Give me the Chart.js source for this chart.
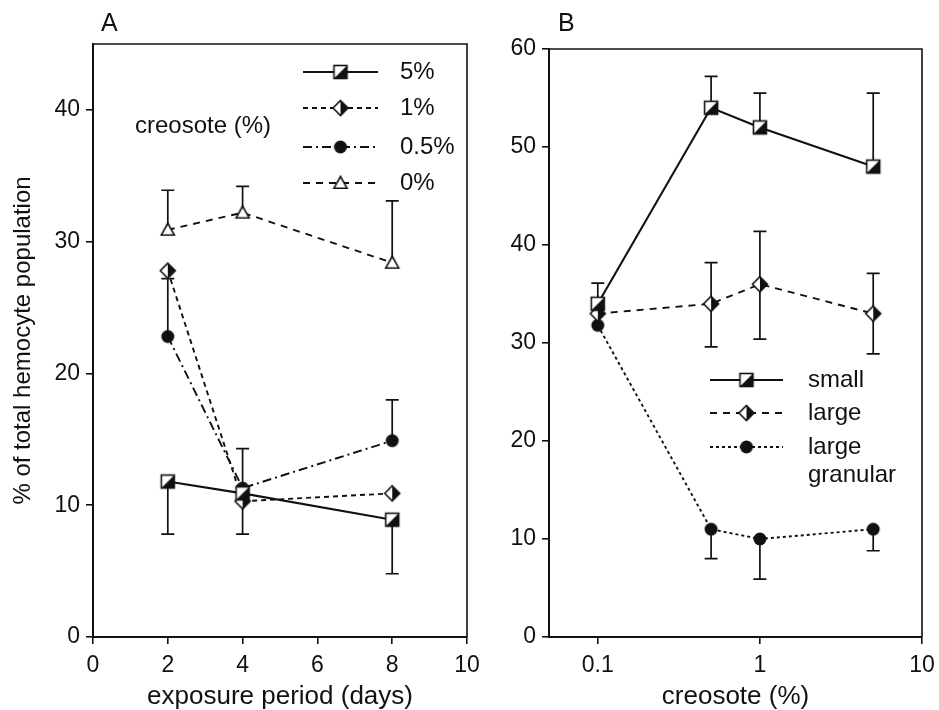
<!DOCTYPE html>
<html>
<head>
<meta charset="utf-8">
<script src="https://cdn.jsdelivr.net/npm/chart.js@4"></script>
<style>
    body { margin: 0; background: #fff; overflow: hidden; }
    #wrap { position: relative; width: 939px; height: 710px; }
    canvas { position: absolute; top: 0; }
</style>
</head>
<body>
<div id="wrap">
    <canvas id="chart-a" width="485" height="710" style="left:0"></canvas>
    <canvas id="chart-b" width="469" height="710" style="left:470px"></canvas>
</div>
<script>
// panel A: exposure period (days)
const daysA = [2, 4, 8];
const creo5 = [11.8, 10.9, 8.9];
const creo1 = [27.8, 10.3, 10.9];
const creo05 = [22.8, 11.3, 14.9];
const creo0 = [30.9, 32.2, 28.4];
// error bar ends (absolute values, null = no bar)
const creo5Low = [7.8, 7.8, 4.8];
const creo05High = [27.2, 14.3, 18.0];
const creo0High = [33.9, 34.2, 33.1];
const xTicksA = [0, 2, 4, 6, 8, 10];
const yTicksA = [0, 10, 20, 30, 40];

// panel B: creosote (%)
const doseB = [0.1, 0.5, 1, 5];
const small = [34, 54, 52, 48];
const large = [33, 34, 36, 33];
const largeGran = [31.8, 11, 10, 11];
const smallHigh = [36.1, 57.2, 55.5, 55.5];
const largeHigh = [null, 38.2, 41.4, 37.1];
const largeLow = [null, 29.6, 30.4, 28.9];
const largeGranLow = [null, 8.0, 5.9, 8.8];
const xTicksB = [0.1, 1, 10];
const yTicksB = [0, 10, 20, 30, 40, 50, 60];

const FONT = "'Liberation Sans', Arial, Helvetica, sans-serif";
const INK = '#111';

// little canvases used as point styles
function makeMarker(kind) {
    const s = 20;
    const c = document.createElement('canvas');
    c.width = s; c.height = s;
    const g = c.getContext('2d');
    const m = s / 2;
    g.lineWidth = 1.6;
    g.strokeStyle = INK;
    g.fillStyle = '#fff';
    if (kind === 'square') {
        const h = 6.5;
        g.fillRect(m - h, m - h, 2 * h, 2 * h);
        g.fillStyle = INK;
        g.beginPath();
        g.moveTo(m + h, m - h); g.lineTo(m + h, m + h); g.lineTo(m - h, m + h);
        g.closePath(); g.fill();
        g.strokeRect(m - h, m - h, 2 * h, 2 * h);
    } else if (kind === 'diamond') {
        const h = 7.5;
        g.beginPath();
        g.moveTo(m, m - h); g.lineTo(m + h, m); g.lineTo(m, m + h); g.lineTo(m - h, m);
        g.closePath(); g.fill(); g.stroke();
        g.fillStyle = INK;
        g.beginPath();
        g.moveTo(m, m - h); g.lineTo(m + h, m); g.lineTo(m, m + h);
        g.closePath(); g.fill();
    } else if (kind === 'circle') {
        g.fillStyle = INK;
        g.beginPath(); g.arc(m, m, 6.5, 0, Math.PI * 2); g.fill();
    } else if (kind === 'triangle') {
        const h = 6.5;
        g.beginPath();
        g.moveTo(m, m - h); g.lineTo(m + h, m + h * 0.8); g.lineTo(m - h, m + h * 0.8);
        g.closePath(); g.fill(); g.stroke();
    }
    return c;
}
const mk = {
    square: makeMarker('square'),
    diamond: makeMarker('diamond'),
    circle: makeMarker('circle'),
    triangle: makeMarker('triangle')
};

const pts = (xs, ys) => xs.map((x, i) => ({ x: x, y: ys[i] }));

function series(label, xs, ys, marker, dash, extra) {
    return Object.assign({
        label: label,
        data: pts(xs, ys),
        showLine: true,
        borderColor: INK,
        borderWidth: 1.9,
        borderDash: dash,
        pointStyle: marker,
        pointRadius: 7,
        marker: marker
    }, extra || {});
}

// error bars, frame, legend and panel letter
const errorBars = {
    id: 'errorBars',
    beforeDatasetsDraw(chart) {
        const ctx = chart.ctx;
        const xs = chart.scales.x, ys = chart.scales.y;
        chart.data.datasets.forEach(ds => {
            [ds.errHigh, ds.errLow].forEach(arr => {
                if (!arr) return;
                ds.data.forEach((p, i) => {
                    if (arr[i] == null) return;
                    const x = xs.getPixelForValue(p.x);
                    const y0 = ys.getPixelForValue(p.y);
                    const y1 = ys.getPixelForValue(arr[i]);
                    ctx.save();
                    ctx.strokeStyle = INK;
                    ctx.lineWidth = 1.7;
                    ctx.beginPath();
                    ctx.moveTo(x, y0); ctx.lineTo(x, y1);
                    ctx.moveTo(x - 6.5, y1); ctx.lineTo(x + 6.5, y1);
                    ctx.stroke();
                    ctx.restore();
                });
            });
        });
    }
};

const frame = {
    id: 'frame',
    beforeDatasetsDraw(chart) {
        const a = chart.chartArea, ctx = chart.ctx;
        ctx.save();
        ctx.strokeStyle = INK;
        ctx.lineWidth = 1.6;
        ctx.beginPath();
        ctx.moveTo(a.left, a.top); ctx.lineTo(a.right, a.top); ctx.lineTo(a.right, a.bottom);
        ctx.stroke();
        ctx.restore();
    }
};

const keyBox = {
    id: 'keyBox',
    afterDraw(chart, args, opts) {
        const ctx = chart.ctx;
        ctx.save();
        ctx.fillStyle = INK;
        ctx.textBaseline = 'middle';
        // panel letter
        ctx.font = `25px ${FONT}`;
        ctx.fillText(opts.letter, opts.letterX, opts.letterY);
        ctx.font = `24px ${FONT}`;
        (opts.extra || []).forEach(t => ctx.fillText(t.text, t.x, t.y));
        chart.data.datasets.forEach((ds, i) => {
            const y = opts.rows[i];
            ctx.save();
            ctx.strokeStyle = INK;
            ctx.lineWidth = ds.borderWidth;
            ctx.setLineDash(ds.borderDash || []);
            ctx.beginPath();
            ctx.moveTo(opts.x0, y); ctx.lineTo(opts.x1, y);
            ctx.stroke();
            ctx.restore();
            const c = ds.marker;
            const mx = (opts.x0 + opts.x1) / 2;
            ctx.drawImage(c, mx - c.width / 2, y - c.height / 2);
            ctx.fillText(ds.label, opts.tx, y);
            if (ds.label2) ctx.fillText(ds.label2, opts.tx, y + 28);
        });
        ctx.restore();
    }
};

function baseOptions(xType, xMin, xMax, xTicks, yMax, yTicks, yWidth, yTitle, xTitle, pad, key) {
    const tickFont = { family: FONT, size: 23 };
    return {
        responsive: false,
        animation: false,
        layout: { padding: pad },
        plugins: { legend: { display: false }, tooltip: { enabled: false }, keyBox: key },
        scales: {
            x: {
                type: xType,
                min: xMin,
                max: xMax,
                afterBuildTicks: s => { s.ticks = xTicks.map(v => ({ value: v })); },
                // fixed height, and let end labels spill into the layout padding
                afterFit: s => { s.height = 73; s.paddingLeft = 0; s.paddingRight = 0; },
                grid: { drawOnChartArea: false, color: INK, lineWidth: 1.6, tickLength: 7 },
                border: { color: INK, width: 2 },
                ticks: { color: INK, font: tickFont, padding: 8, maxRotation: 0,
                    callback: v => String(v) },
                title: { display: true, text: xTitle, color: INK,
                    font: { family: FONT, size: 26, lineHeight: 1 }, padding: 0 }
            },
            y: {
                min: 0,
                max: yMax,
                afterBuildTicks: s => { s.ticks = yTicks.map(v => ({ value: v })); },
                afterFit: s => { s.width = yWidth; },
                grid: { drawOnChartArea: false, color: INK, lineWidth: 1.6, tickLength: 7 },
                border: { color: INK, width: 2 },
                ticks: { color: INK, font: tickFont, padding: 6 },
                title: { display: !!yTitle, text: yTitle, color: INK,
                    font: { family: FONT, size: 24 }, padding: { top: 9, bottom: 0 } }
            }
        }
    };
}

new Chart(document.getElementById('chart-a'), {
    type: 'scatter',
    data: {
        datasets: [
            series('5%', daysA, creo5, mk.square, [], { borderWidth: 2.1, errLow: creo5Low }),
            series('1%', daysA, creo1, mk.diamond, [5, 4]),
            series('0.5%', daysA, creo05, mk.circle, [9, 4, 2, 4], { errHigh: creo05High }),
            series('0%', daysA, creo0, mk.triangle, [7, 6], { errHigh: creo0High })
        ]
    },
    options: baseOptions('linear', 0, 10, xTicksA, 45, yTicksA, 93,
        '% of total hemocyte population', 'exposure period (days)',
        { top: 44, right: 18, bottom: 0, left: 0 },
        { letter: 'A', letterX: 101, letterY: 24, x0: 303, x1: 378, tx: 400,
          rows: [72, 108, 147, 183], extra: [{ text: 'creosote (%)', x: 135, y: 126 }] }),
    plugins: [frame, errorBars, keyBox]
});

new Chart(document.getElementById('chart-b'), {
    type: 'scatter',
    data: {
        datasets: [
            series('small', doseB, small, mk.square, [], { borderWidth: 2.1, errHigh: smallHigh }),
            series('large', doseB, large, mk.diamond, [7, 6], { errHigh: largeHigh, errLow: largeLow }),
            series('large', doseB, largeGran, mk.circle, [3, 3], { errLow: largeGranLow, label2: 'granular' })
        ]
    },
    options: baseOptions('logarithmic', 0.05, 10, xTicksB, 60, yTicksB, 79,
        '', 'creosote (%)',
        { top: 49, right: 17, bottom: 0, left: 0 },
        { letter: 'B', letterX: 88, letterY: 24, x0: 240, x1: 313, tx: 338,
          rows: [380, 413, 447] }),
    plugins: [frame, errorBars, keyBox]
});
</script>
</body>
</html>
